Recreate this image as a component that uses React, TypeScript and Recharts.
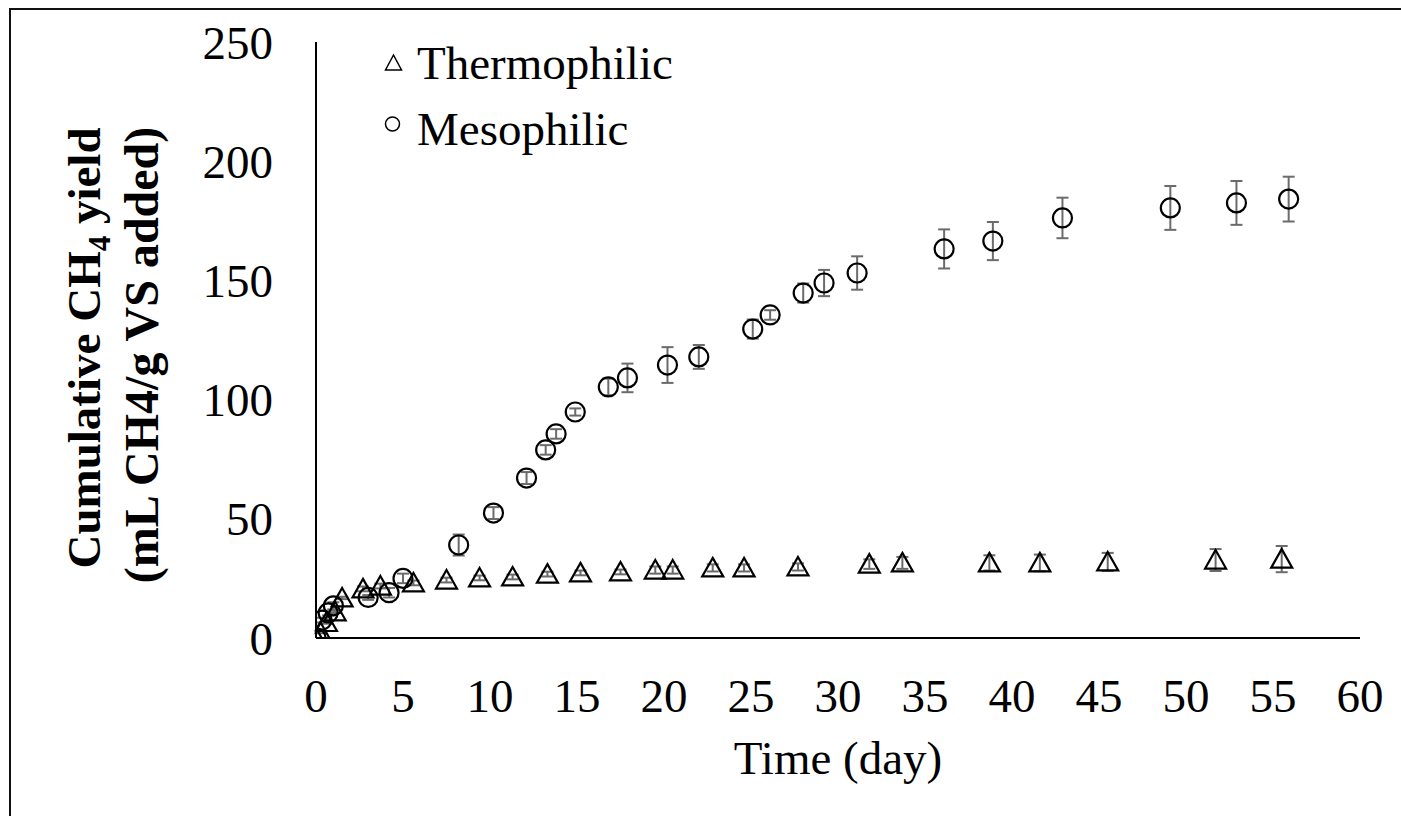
import React from 'react';
import { ScatterChart, Scatter, XAxis, YAxis, ErrorBar, Legend } from 'recharts';

// ---- data ----
const xTicks = [0, 5, 10, 15, 20, 25, 30, 35, 40, 45, 50, 55, 60];
const yTicks = [0, 50, 100, 150, 200, 250];

const thermoDays = [0, 0.25, 0.6, 1.1, 1.5, 2.7, 3.7, 5.6, 7.5, 9.4, 11.3, 13.3, 15.2, 17.5, 19.5, 20.5, 22.8, 24.6, 27.7, 31.8, 33.7, 38.7, 41.6, 45.5, 51.7, 55.5];
const thermoYield = [0, 2.5, 6.5, 11, 16.8, 20.6, 21.8, 23.1, 24.3, 25.2, 25.6, 26.8, 27.3, 27.7, 28.5, 28.5, 29.4, 29.4, 29.8, 31.0, 31.5, 31.5, 31.5, 31.9, 32.7, 33.1];
const thermoErr = [0, 0.5, 0.5, 0.5, 0.5, 1, 1, 1, 1, 1, 1, 1, 1, 1, 1.5, 1.5, 1.5, 1.5, 1.5, 2, 2.5, 3.2, 3.5, 3.8, 4.6, 5.5];

const mesoDays = [0, 0.35, 0.7, 1.0, 3.0, 4.2, 5.0, 8.2, 10.2, 12.1, 13.2, 13.8, 14.9, 16.8, 17.9, 20.2, 22.0, 25.1, 26.1, 28.0, 29.2, 31.1, 36.1, 38.9, 42.9, 49.1, 52.9, 55.9];
const mesoYield = [0, 7.5, 10.5, 13.5, 17, 19, 25, 39, 52.4, 67.1, 78.9, 85.6, 94.8, 105.3, 109.1, 114.5, 117.9, 129.6, 135.5, 144.7, 148.9, 153.1, 163.2, 166.5, 176.2, 180.4, 182.5, 184.1];
const mesoErr = [0, 1, 1, 1.5, 1, 2, 2, 4.4, 2.5, 2.5, 2, 2, 1.5, 3.5, 6, 7.5, 5, 4, 2, 4, 5.5, 7, 8.2, 8, 8.5, 9.2, 9.2, 9.4];

const seriesNames = ['Thermophilic', 'Mesophilic'];

const thermoData = thermoDays.map((d, i) => ({ x: d, y: thermoYield[i], err: thermoErr[i] }));
const mesoData = mesoDays.map((d, i) => ({ x: d, y: mesoYield[i], err: mesoErr[i] }));

const FONT = '"Liberation Serif", "Times New Roman", Times, serif';

const TriangleShape = (props: any) => {
  const { cx, cy } = props;
  if (cx == null || cy == null) return null;
  return (
    <path
      d={`M${cx},${cy - 10} L${cx + 10.5},${cy + 8.5} L${cx - 10.5},${cy + 8.5} Z`}
      fill="none"
      stroke="#000"
      strokeWidth={2.2}
    />
  );
};

const CircleShape = (props: any) => {
  const { cx, cy } = props;
  if (cx == null || cy == null) return null;
  return <circle cx={cx} cy={cy} r={9.5} fill="none" stroke="#000" strokeWidth={2.2} />;
};

const XTitle = (props: any) => {
  const vb = props.viewBox || { x: 316, y: 638, width: 1044, height: 178 };
  return (
    <text x={vb.x + vb.width / 2} y={vb.y + 136} textAnchor="middle" fontFamily={FONT} fontSize={47} fill="#000">
      Time (day)
    </text>
  );
};

const YTitle = (props: any) => {
  const vb = props.viewBox || { x: 0, y: 42, width: 316, height: 596 };
  const cy = vb.y + vb.height / 2;
  return (
    <g>
      <text transform={`translate(100, ${cy + 8}) rotate(-90)`} textAnchor="middle" fontFamily={FONT} fontWeight="bold" fontSize={47} fill="#000">
        Cumulative CH<tspan fontSize={31} dy={10}>4</tspan><tspan dy={-10}> yield</tspan>
      </text>
      <text transform={`translate(158, ${cy + 15}) rotate(-90)`} textAnchor="middle" fontFamily={FONT} fontWeight="bold" fontSize={48} fill="#000">
        (mL CH4/g VS added)
      </text>
    </g>
  );
};

const LegendContent = () => (
  <svg width={330} height={150} style={{ display: 'block', overflow: 'visible' }}>
    <path d="M23.5,45 L31.5,60 L15.5,60 Z" fill="none" stroke="#000" strokeWidth={1.5} />
    <text x={47} y={69} fontFamily={FONT} fontSize={47} fill="#000">{seriesNames[0]}</text>
    <circle cx={22.5} cy={114} r={7} fill="none" stroke="#000" strokeWidth={1.5} />
    <text x={47} y={135} fontFamily={FONT} fontSize={47} fill="#000">{seriesNames[1]}</text>
  </svg>
);

export default function App() {
  return (
    <div style={{ position: 'absolute', left: 0, top: 0, width: 1401, height: 816, background: '#fff', overflow: 'hidden' }}>
      <div
        style={{
          position: 'absolute',
          left: 9,
          top: 8,
          width: 1392,
          height: 808,
          borderLeft: '2px solid #111',
          borderTop: '2px solid #111',
          boxSizing: 'border-box',
          pointerEvents: 'none',
        }}
      />
      <ScatterChart width={1401} height={816} margin={{ top: 42, right: 41, bottom: 0, left: 0 }}>
        <XAxis
          type="number"
          dataKey="x"
          domain={[0, 60]}
          ticks={xTicks}
          interval={0}
          allowDataOverflow
          height={178}
          tickLine={false}
          tickSize={0}
          tickMargin={41}
          axisLine={{ stroke: '#000', strokeWidth: 2 }}
          tick={{ fontFamily: FONT, fontSize: 47, fill: '#000' }}
          label={{ value: 'Time (day)', content: XTitle }}
        />
        <YAxis
          type="number"
          dataKey="y"
          domain={[0, 250]}
          ticks={yTicks}
          interval={0}
          allowDataOverflow
          width={316}
          tickLine={false}
          tickSize={0}
          tickMargin={43}
          axisLine={{ stroke: '#000', strokeWidth: 2 }}
          tick={{ fontFamily: FONT, fontSize: 47, fill: '#000' }}
          label={{ value: 'Cumulative CH4 yield', content: YTitle }}
        />
        <Legend
          layout="vertical"
          align="center"
          verticalAlign="middle"
          content={LegendContent}
          wrapperStyle={{ left: 370, top: 10, width: 330, height: 150 }}
        />
        <Scatter name={seriesNames[0]} data={thermoData} shape={TriangleShape} isAnimationActive={false}>
          <ErrorBar dataKey="err" direction="y" width={6} stroke="#6b6b6b" strokeWidth={2} isAnimationActive={false} />
        </Scatter>
        <Scatter name={seriesNames[1]} data={mesoData} shape={CircleShape} isAnimationActive={false}>
          <ErrorBar dataKey="err" direction="y" width={6} stroke="#6b6b6b" strokeWidth={2} isAnimationActive={false} />
        </Scatter>
      </ScatterChart>
    </div>
  );
}
